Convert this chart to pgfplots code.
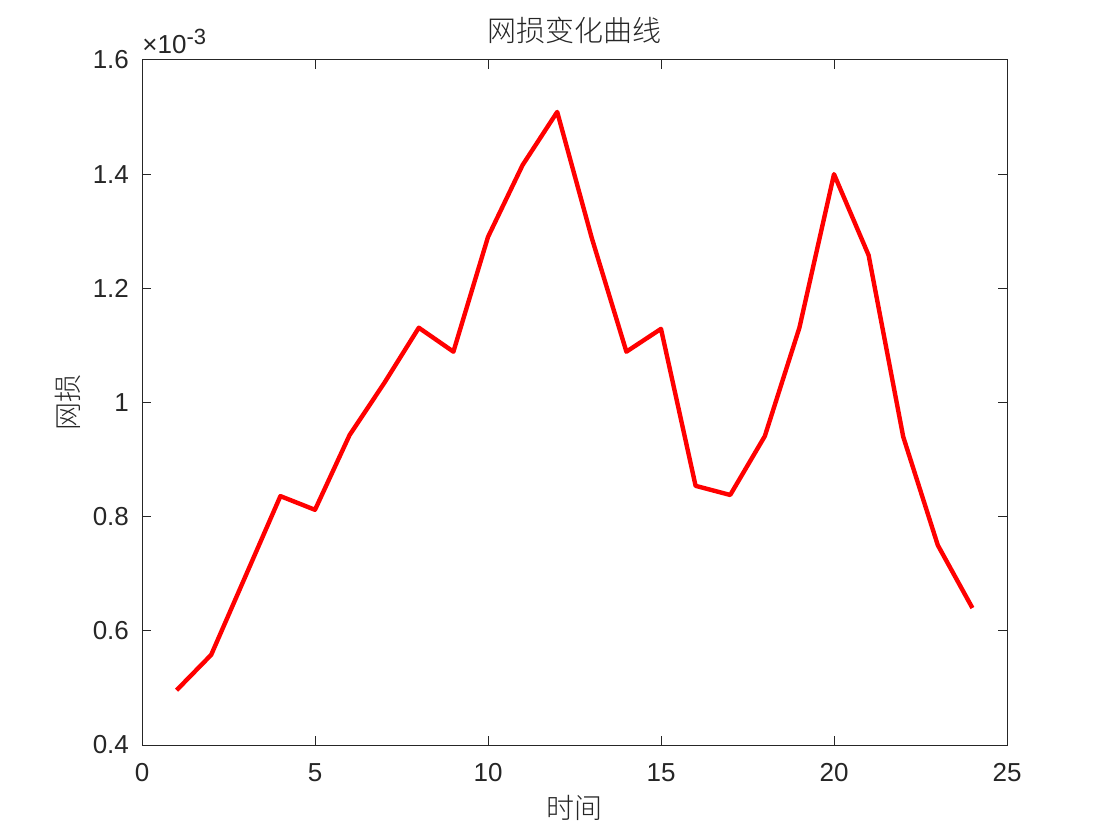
\documentclass[border=0pt]{standalone}
\usepackage{pgfplots}
\pgfplotsset{compat=1.18}
\usepackage{fontspec}
\setmainfont{Liberation Sans}
\newfontfamily\cjk{Noto Sans CJK SC Light}
\definecolor{axgray}{gray}{0.15}
\begin{document}
\begin{tikzpicture}[x=0.5pt,y=0.5pt]
\path[use as bounding box] (0,0) rectangle (1106,829);
\begin{axis}[
  at={(71pt,42pt)}, anchor=south west,
  scale only axis, width=432.5pt, height=342.5pt,
  xmin=0, xmax=25, ymin=0.4, ymax=1.6,
  xtick={0,5,10,15,20,25},
  ytick={0.4,0.6,0.8,1,1.2,1.4,1.6},
  yticklabels={0.4,0.6,0.8,1,1.2,1.4,1.6},
  tick align=inside, tick pos=both,
  major tick length=4.5pt,
  axis line style={axgray, line width=0.5pt},
  every tick/.style={axgray, line width=0.5pt},
  tick label style={font=\fontsize{13}{15}\selectfont, text=axgray},
  /pgf/number format/assume math mode=true,
  xticklabel style={anchor=center, yshift=-14pt},
  yticklabel style={anchor=east, xshift=-3pt},
  title={\cjk\fontsize{14.5}{16}\selectfont 网损变化曲线},
  title style={at={(axis description cs:0.5,1)}, anchor=center, yshift=9pt, text=axgray},
  xlabel={\cjk\fontsize{14}{16}\selectfont 时间},
  ylabel={\cjk\fontsize{14}{16}\selectfont 网损},
  xlabel style={at={(axis description cs:0.5,0)}, anchor=center, yshift=-31.5pt, text=axgray},
  ylabel style={at={(axis description cs:0,0.5)}, anchor=center, yshift=37pt, text=axgray},
  clip=false,
]
\addplot[red, line width=2.2pt, line join=round] coordinates {
(1,0.496) (2,0.558) (3,0.697) (4,0.836) (5,0.812) (6,0.943)
(7,1.034) (8,1.131) (9,1.089) (10,1.290) (11,1.416) (12,1.509)
(13,1.288) (14,1.089) (15,1.129) (16,0.854) (17,0.838) (18,0.941)
(19,1.131) (20,1.400) (21,1.258) (22,0.940) (23,0.750) (24,0.640)
};
\node[anchor=south west, text=axgray, font=\fontsize{13}{15}\selectfont, inner sep=0pt] at (rel axis cs:0,1) [yshift=3pt] {×10\textsuperscript{\fontsize{11}{12}\selectfont -3}};
\end{axis}
\end{tikzpicture}
\end{document}
